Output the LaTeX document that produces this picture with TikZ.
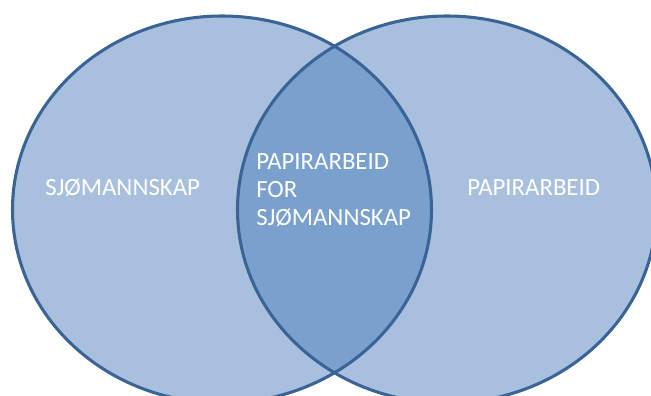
\documentclass[tikz,border=0pt]{standalone}
\usepackage{fontspec}
\setmainfont{Carlito}
\definecolor{setfill}{HTML}{A8C0DE}
\definecolor{lensfill}{HTML}{7AA0CD}
\definecolor{setline}{HTML}{3A6496}
\begin{document}
\begin{tikzpicture}[x=0.75pt,y=-0.75pt,
  setshape/.style={draw=setline,line width=2.3pt},
  label/.style={text=white,font=\fontsize{18.6}{21}\selectfont,inner sep=0pt}]
\useasboundingbox (0,0) rectangle (651,396);
\clip (0,0) rectangle (651,396);
% the two sets
\fill[setfill] (222,209.5) ellipse [x radius=209.5,y radius=193.5];
\fill[setfill] (447,209.5) ellipse [x radius=209.5,y radius=193.5];
% their overlap
\begin{scope}
  \clip (222,209.5) ellipse [x radius=209.5,y radius=193.5];
  \fill[lensfill] (447,209.5) ellipse [x radius=209.5,y radius=193.5];
\end{scope}
% outlines
\draw[setshape] (222,209.5) ellipse [x radius=209.5,y radius=193.5];
\draw[setshape] (447,209.5) ellipse [x radius=209.5,y radius=193.5];
% labels
\node[label,anchor=west] (left) at (45,188) {SJØMANNSKAP};
\node[label,anchor=west] (right) at (467,188) {PAPIRARBEID};
\node[label,anchor=west,align=left,font=\fontsize{18.6}{20.8}\selectfont] (both) at (256,190)
  {PAPIRARBEID\\FOR\\SJØMANNSKAP};
\end{tikzpicture}
\end{document}
